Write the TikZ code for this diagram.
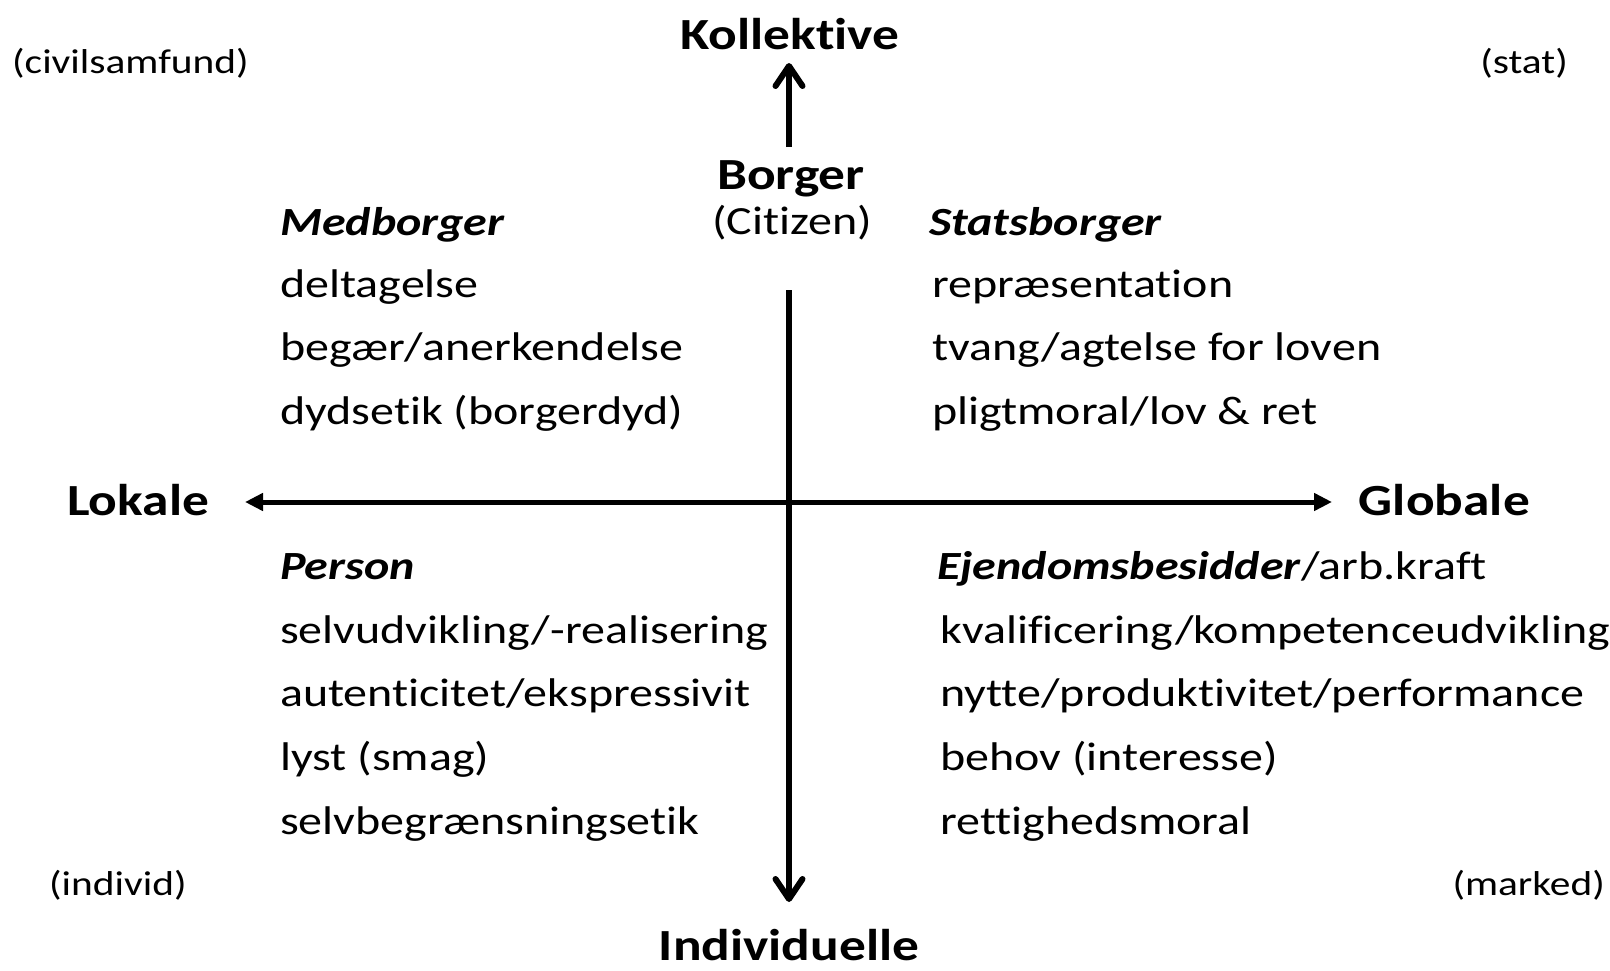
\documentclass[tikz,border=0pt]{standalone}
\usepackage{fontspec}
\setmainfont[FakeStretch=1.2,Ligatures=NoCommon]{Carlito}
\usetikzlibrary{arrows.meta}
\begin{document}
\begin{tikzpicture}[x={(1pt,0)},y={(0,-1pt)},
  body/.style={inner sep=0pt,anchor=base west,font=\fontsize{40}{48}\selectfont},
  head/.style={inner sep=0pt,anchor=base west,font=\fontsize{40}{48}\selectfont\bfseries\itshape},
  axis/.style={inner sep=0pt,anchor=base,font=\fontsize{44.5}{52}\selectfont\bfseries},
  corner/.style={inner sep=0pt,font=\fontsize{34.5}{40}\selectfont},
  varrow/.style={line width=6pt,-{Straight Barb[length=20pt,width=27pt,line cap=round,line join=round]}},
  harrow/.style={line width=5pt,{Triangle[length=18pt,width=17pt]}-{Triangle[length=18pt,width=17pt]}}]
\useasboundingbox (0,0) rectangle (1610,970);
% axis labels
\node[axis] (kol) at (790,49) {Kollektive};
\node[axis] (ind) at (789,960) {Individuelle};
\node[axis,anchor=base west] (lok) at (67,515) {Lokale};
\node[axis,anchor=base east] (glo) at (1530,515) {Globale};
\node[axis] (bor) at (791,189) {Borger};
\node[inner sep=0pt,anchor=base,font=\fontsize{40}{48}\selectfont] (cit) at (792,234) {(Citizen)};
% corners
\node[corner,anchor=base west] (civ) at (12,73) {(civilsamfund)};
\node[corner,anchor=base east] (sta) at (1568,73) {(stat)};
\node[corner,anchor=base west] (indv) at (49,895) {(individ)};
\node[corner,anchor=base east] (mar) at (1605,895) {(marked)};
% arrows
\coordinate (upS) at (789,147);
\coordinate (upE) at (789,63);
\coordinate (vS) at (789,290);
\coordinate (vE) at (789,902);
\coordinate (hL) at (245,502);
\coordinate (hR) at (1332,502);
\draw[varrow] (upS) -- (upE);
\draw[varrow] (vS) -- (vE);
\draw[harrow] (hL) -- (hR);
% quadrant texts
\node[head] (med) at (280,235) {Medborger};
\node[body] (m1) at (280,297) {deltagelse};
\node[body] (m2) at (280,360) {begær/anerkendelse};
\node[body] (m3) at (280,424) {dydsetik (borgerdyd)};
\node[head] (stb) at (929,235) {Statsborger};
\node[body] (s1) at (932,297) {repræsentation};
\node[body] (s2) at (932,360) {tvang/agtelse for loven};
\node[body] (s3) at (932,424) {pligtmoral/lov \& ret};
\node[head] (per) at (280,579) {Person};
\node[body] (p1) at (280,643) {selvudvikling/-realisering};
\node[body] (p2) at (280,706) {autenticitet/ekspressivit};
\node[body] (p3) at (280,770) {lyst (smag)};
\node[body] (p4) at (280,834) {selvbegrænsningsetik};
\node[body] (ej) at (937,579) {\textbf{\textit{Ejendomsbesidder}}/arb.kraft};
\node[body] (e1) at (940,643) {kvalificering/kompetenceudvikling};
\node[body] (e2) at (940,706) {nytte/produktivitet/performance};
\node[body] (e3) at (940,770) {behov (interesse)};
\node[body] (e4) at (940,834) {rettighedsmoral};
\end{tikzpicture}
\end{document}
